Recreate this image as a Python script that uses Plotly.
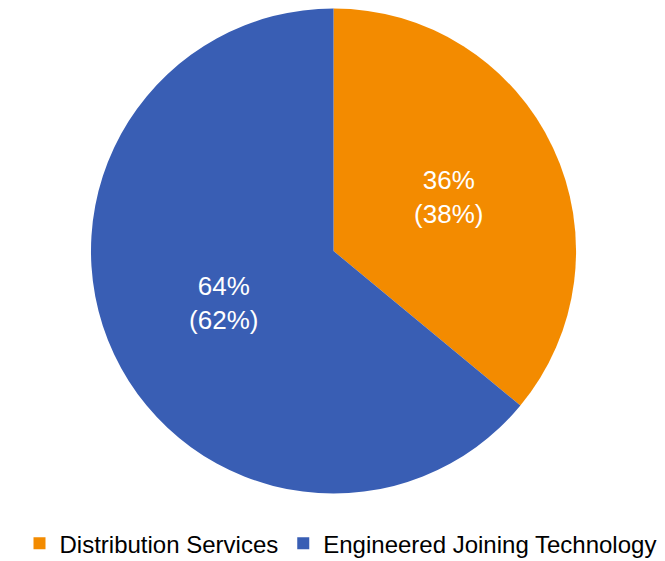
import plotly.graph_objects as go

labels = ["Distribution Services", "Engineered Joining Technology"]
values = [36, 64]
prior = [38, 62]
colors = ["#F38B00", "#395EB4"]

text = [f"{v}%<br>({p}%)" for v, p in zip(values, prior)]

fig = go.Figure(go.Pie(
    labels=labels,
    values=values,
    text=text,
    textinfo="text",
    textposition="inside",
    insidetextorientation="horizontal",
    sort=False,
    direction="clockwise",
    rotation=0,
    marker=dict(colors=colors, line=dict(width=0)),
    textfont=dict(color="white", size=26, family="Liberation Sans Narrow, Arial Narrow, Liberation Sans, Arial"),
    domain=dict(x=[0.1248, 0.8542], y=[0.1337, 1.0]),
    hoverinfo="label+percent",
))

fig.update_layout(
    width=665, height=561,
    margin=dict(l=0, r=0, t=0, b=0),
    paper_bgcolor="white",
    plot_bgcolor="white",
    showlegend=True,
    legend=dict(
        orientation="h",
        x=0.5, xanchor="center",
        y=0.005, yanchor="bottom",
        font=dict(size=24, color="black", family="Liberation Sans Narrow, Arial Narrow, Liberation Sans, Arial"),
        itemsizing="constant",
        traceorder="normal",
    ),
)

fig.write_html("out.html")
